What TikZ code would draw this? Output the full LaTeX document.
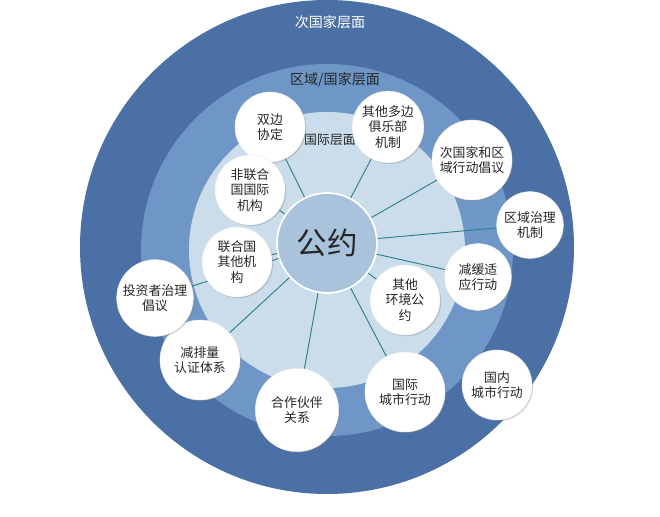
\documentclass[tikz,border=0pt]{standalone}
\usepackage{fontspec}
\setmainfont{Noto Sans CJK SC}
\usetikzlibrary{shadows}
\pgfdeclarelayer{bg}
\pgfdeclarelayer{mid}
\pgfsetlayers{bg,mid,main}
\definecolor{ringA}{HTML}{4A70A6}
\definecolor{ringB}{HTML}{6E97C8}
\definecolor{ringC}{HTML}{CBDDEB}
\definecolor{core}{HTML}{A8C3DB}
\definecolor{lnk}{HTML}{2E7F8C}
\tikzset{bub/.style={circle,fill=white,draw=white!85!gray,inner sep=0pt,align=center,font=\fontsize{11}{13}\selectfont,text=black!85,drop shadow={opacity=0.35,shadow xshift=1pt,shadow yshift=-1pt}},
lk/.style={lnk,line width=0.8pt}}
\begin{document}
\begin{tikzpicture}[x=0.03cm,y=-0.03cm]
\useasboundingbox (0,0) rectangle (660,517);
\begin{pgfonlayer}{bg}
\fill[white] (0,0) rectangle (660,517);
\fill[ringA] (327,247) circle[radius=247];
\fill[ringB] (327,250) circle[radius=186];
\fill[ringC] (327,250) circle[radius=138];
\end{pgfonlayer}
\node[font=\fontsize{12}{14}\selectfont,text=white] (t1) at (330,22) {次国家层面};
\node[font=\fontsize{12}{14}\selectfont,text=black!85] (t2) at (335,80) {区域/国家层面};
\node[font=\fontsize{11}{13}\selectfont,text=black!85] (t3) at (330,140) {国际层面};
\node[circle,fill=core,draw=white,line width=1.5pt,minimum size=3cm,font=\fontsize{26}{30}\selectfont,text=black!85] (c) at (327,243) {公约};
\begin{scope}[every node/.style={bub}]
\node[minimum size=2.1cm] (a1) at (270,127) {双边\\协定};
\node[minimum size=2.15cm] (a2) at (388,127) {其他多边\\俱乐部\\机制};
\node[minimum size=2.4cm] (a3) at (472,160) {次国家和区\\域行动倡议};
\node[minimum size=2.0cm] (a4) at (530,225) {区域治理\\机制};
\node[minimum size=2.0cm] (a5) at (478,277) {减缓适\\应行动};
\node[minimum size=2.1cm] (a6) at (405,300) {其他\\环境公\\约};
\node[minimum size=2.1cm] (a7) at (497,385) {国内\\城市行动};
\node[minimum size=2.4cm] (a8) at (405,392) {国际\\城市行动};
\node[minimum size=2.5cm] (a9) at (297,410) {合作伙伴\\关系};
\node[minimum size=2.4cm] (a10) at (200,360) {减排量\\认证体系};
\node[minimum size=2.3cm] (a11) at (155,298) {投资者治理\\倡议};
\node[minimum size=2.1cm] (a12) at (237,262) {联合国\\其他机\\构};
\node[minimum size=2.1cm] (a13) at (250,190) {非联合\\国国际\\机构};
\end{scope}
\begin{pgfonlayer}{mid}
\foreach \i in {1,...,6,8,9,10,11,12,13}{\draw[lk] (c.center) -- (a\i.center);}
\end{pgfonlayer}
\end{tikzpicture}
\end{document}
